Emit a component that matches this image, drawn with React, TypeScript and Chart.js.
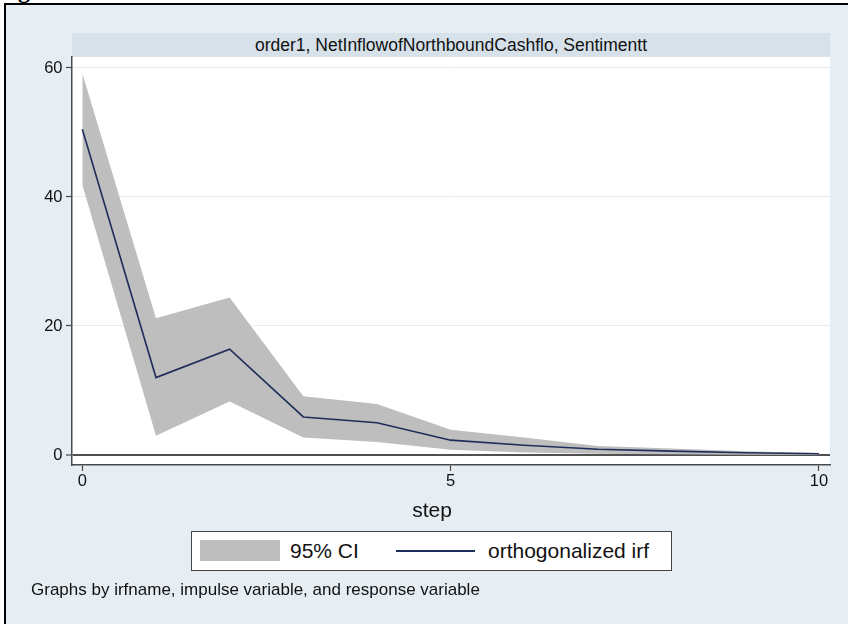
import { useEffect, useRef } from "react";
import { Chart, registerables } from "chart.js";

Chart.register(...registerables);

// Impulse-response horizon and estimates
const steps = [0, 1, 2, 3, 4, 5, 6, 7, 8, 9, 10];
const irf = [50.5, 12.0, 16.4, 5.9, 5.0, 2.3, 1.5, 0.9, 0.6, 0.35, 0.2];
const ciUpper = [59.2, 21.2, 24.4, 9.1, 7.9, 3.9, 2.7, 1.4, 1.0, 0.6, 0.3];
const ciLower = [41.9, 3.0, 8.3, 2.7, 2.0, 0.8, 0.4, 0.2, 0.1, 0.05, 0.0];

// Axis ticks
const yTicks = [0, 20, 40, 60];
const xTicks = [0, 5, 10];

// Labels
const panelTitle = "order1, NetInflowofNorthboundCashflo, Sentimentt";
const xTitle = "step";
const legendCI = "95% CI";
const legendIrf = "orthogonalized irf";
const noteText = "Graphs by irfname, impulse variable, and response variable";

const FONT = '"Liberation Sans", Arial, Helvetica, sans-serif';
const CI_GRAY = "#bebebe";
const NAVY = "#1f2d5a";
const BG = "#e6eef4";
const STRIP = "#d6e1e9";
const AXIS = "#4a4a4a";
const TEXT = "#111111";

const plotBackground = {
  id: "plotBackground",
  beforeDraw(chart: any) {
    const { ctx, chartArea } = chart;
    ctx.save();
    ctx.fillStyle = "#ffffff";
    ctx.fillRect(chartArea.left, chartArea.top, chartArea.right - chartArea.left, chartArea.bottom - chartArea.top);
    ctx.restore();
  },
};

function IrfChart() {
  const ref = useRef<HTMLCanvasElement | null>(null);

  useEffect(() => {
    if (!ref.current) return;
    const pts = (arr: number[]) => steps.map((s, i) => ({ x: s, y: arr[i] }));
    const chart = new Chart(ref.current, {
      type: "line",
      data: {
        datasets: [
          {
            label: legendIrf,
            data: pts(irf),
            borderColor: NAVY,
            borderWidth: 1.6,
            pointRadius: 0,
            fill: false,
            tension: 0,
          },
          {
            label: "ci-upper",
            data: pts(ciUpper),
            borderWidth: 0,
            borderColor: "rgba(0,0,0,0)",
            backgroundColor: CI_GRAY,
            pointRadius: 0,
            fill: "+1",
            tension: 0,
          },
          {
            label: "ci-lower",
            data: pts(ciLower),
            borderWidth: 0,
            borderColor: "rgba(0,0,0,0)",
            pointRadius: 0,
            fill: false,
            tension: 0,
          },
        ],
      },
      options: {
        animation: false,
        responsive: false,
        maintainAspectRatio: false,
        layout: { padding: { top: 57, right: 18, left: 0, bottom: 0 } },
        plugins: { legend: { display: false }, tooltip: { enabled: false } },
        scales: {
          x: {
            type: "linear",
            min: -0.14,
            max: 10.15,
            afterBuildTicks: (s: any) => {
              s.ticks = xTicks.map((v) => ({ value: v }));
            },
            afterFit: (s: any) => {
              s.height = 159;
            },
            grid: {
              display: true,
              drawOnChartArea: false,
              drawTicks: true,
              tickLength: 6,
              tickColor: AXIS,
              tickWidth: 1.2,
            },
            border: { display: true, color: AXIS, width: 1.5 },
            ticks: {
              font: { family: FONT, size: 16.5 },
              color: TEXT,
              padding: 1,
              maxRotation: 0,
              autoSkip: false,
            },
          },
          y: {
            type: "linear",
            min: -1.55,
            max: 61.7,
            afterBuildTicks: (s: any) => {
              s.ticks = yTicks.map((v) => ({ value: v }));
            },
            afterFit: (s: any) => {
              s.width = 72;
            },
            grid: {
              color: (c: any) => (c.tick && c.tick.value === 0 ? "#505050" : "#ebebeb"),
              lineWidth: (c: any) => (c.tick && c.tick.value === 0 ? 2 : 1),
              drawTicks: true,
              tickLength: 6,
              tickColor: AXIS,
              tickWidth: 1.2,
            },
            border: { display: true, color: AXIS, width: 1.5 },
            ticks: {
              font: { family: FONT, size: 16.5 },
              color: TEXT,
              padding: 3.5,
              autoSkip: false,
            },
          },
        },
      },
      plugins: [plotBackground],
    });
    return () => chart.destroy();
  }, []);

  return (
    <canvas
      ref={ref}
      width={848}
      height={624}
      style={{ position: "absolute", left: 0, top: 0, width: 848, height: 624 }}
    />
  );
}

export default function App() {
  const abs = (s: any) => ({ position: "absolute" as const, ...s });
  return (
    <div
      style={{
        position: "fixed",
        left: 0,
        top: 0,
        width: 848,
        height: 624,
        overflow: "hidden",
        background: "#ffffff",
        fontFamily: FONT,
      }}
    >
      {/* clipped heading glyph above the frame */}
      <div style={abs({ left: 18, top: 0, width: 24, height: 3, overflow: "hidden" })}>
        <span
          style={{
            position: "absolute",
            left: 0,
            top: -22,
            fontFamily: '"Liberation Serif", "Times New Roman", serif',
            fontWeight: 700,
            fontSize: 24,
            lineHeight: "24px",
            color: "#000",
          }}
        >
          g
        </span>
      </div>

      {/* graph region with frame */}
      <div
        style={abs({
          left: 4,
          top: 3,
          width: 900,
          height: 700,
          background: BG,
          borderLeft: "2px solid #000",
          borderTop: "2px solid #000",
        })}
      />

      {/* panel strip */}
      <div
        style={abs({
          left: 72,
          top: 33,
          width: 758,
          height: 24,
          background: STRIP,
          color: TEXT,
          fontSize: 17.5,
          lineHeight: "24px",
          textAlign: "center",
          whiteSpace: "nowrap",
        })}
      >
        {panelTitle}
      </div>

      <IrfChart />

      {/* x axis title */}
      <div
        style={abs({
          left: 332,
          top: 498,
          width: 200,
          fontSize: 21,
          lineHeight: "24px",
          textAlign: "center",
          color: TEXT,
        })}
      >
        {xTitle}
      </div>

      {/* legend */}
      <div
        style={abs({
          left: 191,
          top: 531,
          width: 479,
          height: 38,
          background: "#ffffff",
          border: "1px solid #444",
        })}
      >
        <div style={abs({ left: 8, top: 8, width: 80, height: 21, background: CI_GRAY })} />
        <div
          style={abs({
            left: 98,
            top: 0,
            fontSize: 21,
            lineHeight: "38px",
            color: TEXT,
            whiteSpace: "nowrap",
          })}
        >
          {legendCI}
        </div>
        <div style={abs({ left: 204, top: 18, width: 79, height: 1.6, background: NAVY })} />
        <div
          style={abs({
            left: 296,
            top: 0,
            fontSize: 21,
            lineHeight: "38px",
            color: TEXT,
            whiteSpace: "nowrap",
          })}
        >
          {legendIrf}
        </div>
      </div>

      {/* note */}
      <div
        style={abs({
          left: 31,
          top: 580,
          fontSize: 17,
          lineHeight: "20px",
          color: TEXT,
          whiteSpace: "nowrap",
        })}
      >
        {noteText}
      </div>
    </div>
  );
}
